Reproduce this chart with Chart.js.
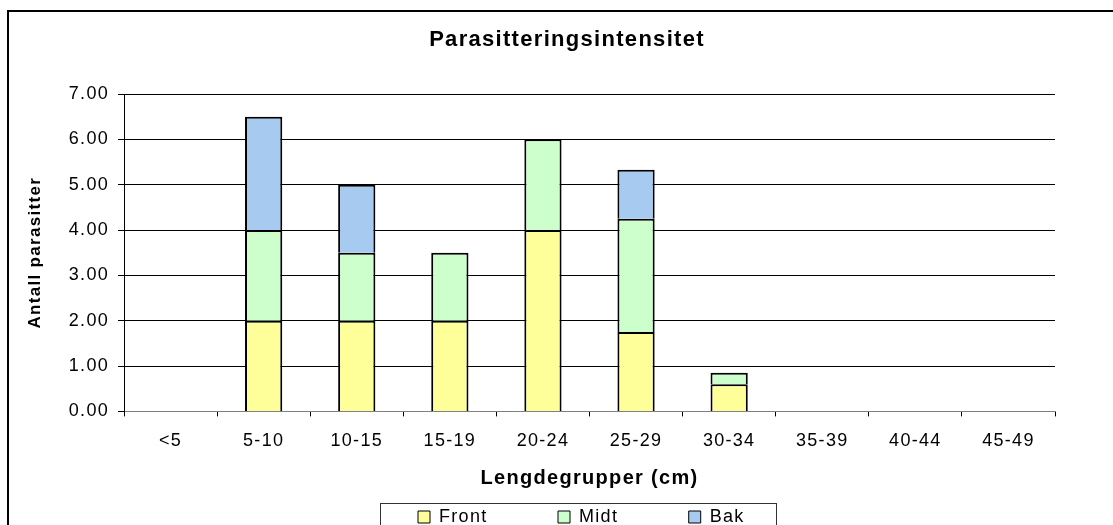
<!DOCTYPE html>
<html>
<head>
<meta charset="utf-8">
<script src="https://cdn.jsdelivr.net/npm/chart.js@4"></script>
<style>
  html, body { margin: 0; padding: 0; background: #fff; }
  #wrap { width: 1113px; height: 525px; overflow: hidden; position: relative; }
  canvas { display: block; }
</style>
</head>
<body>
<div id="wrap"><canvas id="chart" width="1134" height="540"></canvas></div>
<script>
const categories = ['<5', '5-10', '10-15', '15-19', '20-24', '25-29', '30-34', '35-39', '40-44', '45-49'];
const front = [null, 2, 2, 2, 4, 1.75, 0.6, null, null, null];
const midt = [null, 2, 1.5, 1.5, 2, 2.5, 0.25, null, null, null];
const bak = [null, 2.5, 1.5, null, null, 1.08, null, null, null, null];
const yTicks = [0, 1, 2, 3, 4, 5, 6, 7];

const FONT = 'Arial, "Liberation Sans", sans-serif';
const SPACING = '1.3px';

// excel spreads its letters out, so widen canvas text a bit
const spacingPlugin = {
  id: 'spacing',
  beforeUpdate(chart) { chart.ctx.letterSpacing = SPACING; },
  beforeDraw(chart) { chart.ctx.letterSpacing = SPACING; }
};

// put title and legend where the excel chart had them
const placePlugin = {
  id: 'place',
  afterLayout(chart) {
    const t = chart.titleBlock;
    if (t) { t.left = 0; t.right = chart.width; }
    const lg = chart.legend;
    const pad = lg.options.labels.padding;
    const lw = lg.lineWidths[0];
    const firstBox = 418;
    lg.left = 0;
    lg.right = 2 * firstBox - pad + lw;
    lg.top = 508 - pad;
    lg.bottom = lg.top + pad + 40;
  }
};

const framePlugin = {
  id: 'frame',
  afterDraw(chart) {
    const ctx = chart.ctx;
    ctx.save();
    ctx.strokeStyle = '#000';
    ctx.lineWidth = 2;
    ctx.strokeRect(8, 11, chart.width, chart.height);
    ctx.strokeStyle = '#333';
    ctx.lineWidth = 1;
    ctx.strokeRect(380.5, 503.5, 396, 60);
    ctx.restore();
  }
};

new Chart(document.getElementById('chart'), {
  type: 'bar',
  data: {
    labels: categories,
    datasets: [{
      label: 'Front',
      data: front,
      backgroundColor: '#FFFF99'
    }, {
      label: 'Midt',
      data: midt,
      backgroundColor: '#CCFFCC'
    }, {
      label: 'Bak',
      data: bak,
      backgroundColor: '#A6CAF0'
    }]
  },
  options: {
    responsive: false,
    animation: false,
    devicePixelRatio: 1,
    layout: { padding: { left: 8, right: 79, top: 0, bottom: 28 } },
    datasets: {
      bar: {
        borderColor: '#000',
        borderWidth: 2,
        categoryPercentage: 0.5,
        barPercentage: 0.8
      }
    },
    scales: {
      x: {
        stacked: true,
        grid: { drawOnChartArea: false, color: '#000', tickLength: 5 },
        border: { color: '#808080' },
        ticks: { color: '#000', padding: 14, font: { family: FONT, size: 18 } },
        title: {
          display: true,
          text: 'Lengdegrupper (cm)',
          color: '#000',
          font: { family: FONT, size: 20, weight: 'bold' },
          padding: { top: 0, bottom: 2 }
        }
      },
      y: {
        stacked: true,
        min: 0,
        max: 7,
        afterFit(scale) { scale.width = 116; },
        afterBuildTicks(scale) { scale.ticks = yTicks.map(v => ({ value: v })); },
        grid: { color: '#000', tickLength: 6 },
        border: { color: '#000' },
        ticks: {
          color: '#000',
          padding: 9,
          font: { family: FONT, size: 18 },
          callback: v => v.toFixed(2)
        },
        title: {
          display: true,
          text: 'Antall parasitter',
          color: '#000',
          font: { family: FONT, size: 17, weight: 'bold' },
          padding: { top: 17, bottom: 0 }
        }
      }
    },
    plugins: {
      title: {
        display: true,
        text: 'Parasitteringsintensitet',
        color: '#000',
        font: { family: FONT, size: 22, weight: 'bold' },
        padding: { top: 27, bottom: 40.6 }
      },
      legend: {
        position: 'bottom',
        maxHeight: 20,
        labels: {
          color: '#000',
          font: { family: FONT, size: 18 },
          boxWidth: 12,
          boxHeight: 12,
          padding: 70.5,
          generateLabels: chart => Chart.defaults.plugins.legend.labels.generateLabels(chart)
            .map(l => Object.assign(l, { lineWidth: 1 }))
        }
      },
      tooltip: { enabled: false }
    }
  },
  plugins: [spacingPlugin, placePlugin, framePlugin]
});
</script>
</body>
</html>
